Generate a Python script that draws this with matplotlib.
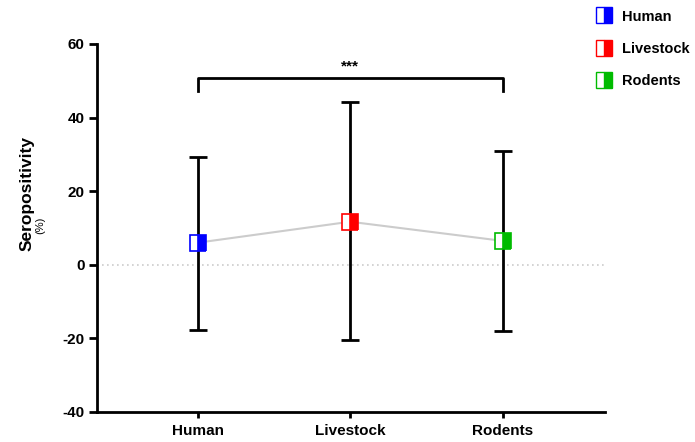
import matplotlib
matplotlib.use("Agg")
import matplotlib.pyplot as plt
from matplotlib.lines import Line2D

plt.rcParams['font.family'] = ['Liberation Sans', 'DejaVu Sans']
plt.rcParams['axes.unicode_minus'] = False

groups = ['Human', 'Livestock', 'Rodents']
means = [6.0, 11.7, 6.5]
upper = [29.3, 44.3, 31.0]
lower = [-17.7, -20.4, -17.9]
colors = ['#0000ff', '#ff0000', '#00bb00']
yticks = [-40, -20, 0, 20, 40, 60]

fig = plt.figure(figsize=(6.95, 4.42), dpi=100)
ax = fig.add_axes([0.1396, 0.0679, 0.7304, 0.8326])

x = list(range(len(groups)))

# zero reference line
ax.axhline(0, color='#cccccc', lw=1.2, ls=(0, (1, 2)), zorder=1)

# connecting line between means
ax.plot(x, means, color='#cccccc', lw=1.5, zorder=2)

# error bars
for xi, m, lo, hi in zip(x, means, lower, upper):
    ax.errorbar(xi, m, yerr=[[m - lo], [hi - m]], fmt='none', ecolor='black',
                elinewidth=2, capsize=6.5, capthick=2, zorder=3)

# half-filled square markers
for xi, m, c in zip(x, means, colors):
    ax.plot(xi, m, marker='s', markersize=11, fillstyle='right', color=c,
            markerfacecoloralt='white', markeredgecolor=c, markeredgewidth=1.2, zorder=4)

# significance bracket
ax.plot([0, 0, 2, 2], [47.3, 50.8, 50.8, 47.3], color='black', lw=2, clip_on=False)
ax.text(1, 52, '***', ha='center', va='bottom', fontsize=11, fontweight='bold')

ax.set_xlim(-0.66, 2.67)
ax.set_ylim(-40, 60)
ax.set_yticks(yticks)
ax.set_xticks(x)
ax.set_xticklabels(groups)
for lbl in ax.get_xticklabels() + ax.get_yticklabels():
    lbl.set_fontweight('bold')
    lbl.set_fontsize(11)

for s in ['top', 'right']:
    ax.spines[s].set_visible(False)
for s in ['left', 'bottom']:
    ax.spines[s].set_linewidth(2)
ax.tick_params(axis='y', width=2, length=6, direction='out', pad=3)
ax.tick_params(axis='x', width=2, length=4, direction='out', pad=5)

fig.text(0.039, 0.563, 'Seropositivity', rotation=90, ha='center', va='center',
         fontsize=12.5, fontweight='bold')
fig.text(0.058, 0.49, '(%)', rotation=90, ha='center', va='center', fontsize=8)

handles = [Line2D([], [], marker='s', markersize=11, fillstyle='right', color=c,
                  markerfacecoloralt='white', markeredgecolor=c, lw=0)
           for c in colors]
leg = fig.legend(handles, groups, loc='upper left', bbox_to_anchor=(0.838, 1.008),
                 frameon=False, prop={'weight': 'bold', 'size': 10.5},
                 handletextpad=0.6, labelspacing=1.25, handlelength=1.2)

fig.savefig('out.png', dpi=100)
